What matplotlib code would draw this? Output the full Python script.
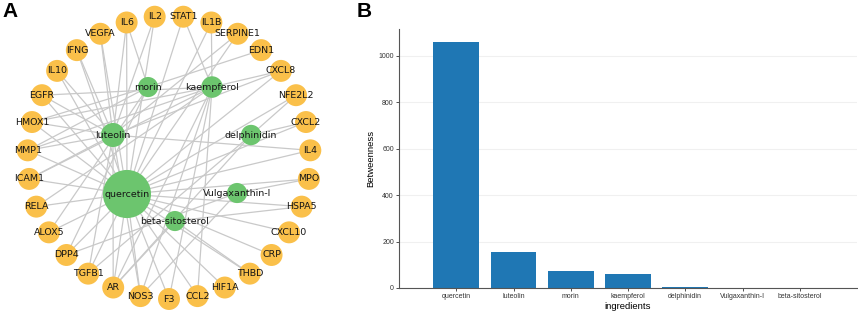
import numpy as np
import matplotlib
matplotlib.use("Agg")
import matplotlib.pyplot as plt

# ---------------- data ----------------
# Panel B: betweenness of ingredients
ingredients = ["quercetin", "luteolin", "morin", "kaempferol", "delphinidin",
               "Vulgaxanthin-I", "beta-sitosterol"]
betweenness = [1062, 154, 73, 59, 2.5, 0.3, 0.2]

# Panel A: targets (circular order, clockwise from top)
targets = ["STAT1", "IL1B", "SERPINE1", "EDN1", "CXCL8", "NFE2L2", "CXCL2", "IL4",
           "MPO", "HSPA5", "CXCL10", "CRP", "THBD", "HIF1A", "CCL2", "F3", "NOS3",
           "AR", "TGFB1", "DPP4", "ALOX5", "RELA", "ICAM1", "MMP1", "HMOX1", "EGFR",
           "IL10", "IFNG", "VEGFA", "IL6", "IL2"]

# compound -> target links
links_quercetin = ["STAT1", "IL1B", "SERPINE1", "CXCL8", "NFE2L2", "CXCL2", "IL4", "MPO",
                   "HSPA5", "CXCL10", "CRP", "THBD", "HIF1A", "CCL2", "F3", "NOS3", "AR",
                   "TGFB1", "DPP4", "ALOX5", "RELA", "ICAM1", "MMP1", "HMOX1", "EGFR",
                   "IL10", "IFNG", "VEGFA", "IL6", "IL2"]
links_luteolin = ["IL6", "IL2", "VEGFA", "IFNG", "IL10", "EGFR", "HMOX1", "MMP1", "ICAM1",
                  "IL4", "TGFB1", "AR", "NOS3", "SERPINE1", "CXCL8"]
links_kaempferol = ["STAT1", "EGFR", "HMOX1", "MMP1", "ICAM1", "RELA", "AR", "NOS3", "F3",
                    "CCL2", "CXCL8", "IL1B"]
links_morin = ["EDN1", "IL6", "ALOX5", "DPP4", "MMP1", "HMOX1"]
links_delphinidin = ["CXCL2", "NFE2L2", "AR", "TGFB1"]
links_vulgaxanthin = ["MPO", "NOS3", "DPP4"]
links_sitosterol = ["AR", "THBD", "HSPA5"]

# ---------------- layout / style ----------------
compound_pos = {
    "morin": (-0.148, 0.498),
    "kaempferol": (0.304, 0.498),
    "luteolin": (-0.396, 0.159),
    "delphinidin": (0.580, 0.159),
    "quercetin": (-0.297, -0.258),
    "Vulgaxanthin-I": (0.481, -0.251),
    "beta-sitosterol": (0.042, -0.449),
}
compound_size = {"morin": 210, "kaempferol": 240, "luteolin": 300, "delphinidin": 215,
                 "quercetin": 1200, "Vulgaxanthin-I": 210, "beta-sitosterol": 210}
links = {"quercetin": links_quercetin, "luteolin": links_luteolin,
         "kaempferol": links_kaempferol, "morin": links_morin,
         "delphinidin": links_delphinidin, "Vulgaxanthin-I": links_vulgaxanthin,
         "beta-sitosterol": links_sitosterol}

n = len(targets)
step = 360.0 / n
target_pos = {}
for k, t in enumerate(targets):
    ang = np.deg2rad(90 - step / 2 - step * k)
    target_pos[t] = (np.cos(ang), np.sin(ang))

W, H = 858, 314
fig = plt.figure(figsize=(W / 100, H / 100), dpi=100)

# network axes: center at pixel (169, 157.5 from top), 141.5 px per unit
scale = 141.5
cx, cy = 169, H - 157.5
xl = (-1.2, 1.2)
yl = (-1.1, 1.1)
left = cx + xl[0] * scale
bottom = cy + yl[0] * scale
axA = fig.add_axes([left / W, bottom / H, (xl[1] - xl[0]) * scale / W,
                    (yl[1] - yl[0]) * scale / H])
axA.set_xlim(*xl)
axA.set_ylim(*yl)
axA.axis("off")

edge_col = "#c9c9c9"
for c, tl in links.items():
    x0, y0 = compound_pos[c]
    for t in tl:
        x1, y1 = target_pos[t]
        axA.plot([x0, x1], [y0, y1], color=edge_col, lw=0.9, zorder=1,
                 solid_capstyle="butt")

tx = [target_pos[t][0] for t in targets]
ty = [target_pos[t][1] for t in targets]
axA.scatter(tx, ty, s=250, color="#FAC04A", edgecolors="none", zorder=2)
for c, (x, y) in compound_pos.items():
    axA.scatter([x], [y], s=compound_size[c], color="#6CC56E", edgecolors="none", zorder=2)

lab_font = dict(family="DejaVu Sans", fontsize=6.8, color="#151515", zorder=3,
                ha="center", va="center")
for t in targets:
    axA.text(target_pos[t][0], target_pos[t][1], t, **lab_font)
for c, (x, y) in compound_pos.items():
    axA.text(x, y, c, **lab_font)

# ---------------- bar chart ----------------
axB = fig.add_axes([399 / W, (H - 288) / H, (857 - 399) / W, (288 - 29) / H])
xpos = np.arange(len(ingredients))
axB.bar(xpos, betweenness, width=0.8, color="#1f77b4", zorder=2)
axB.set_xlim(-1.0, 7.0)
axB.set_ylim(0, 1116)
axB.set_xticks(xpos)
axB.set_xticklabels(ingredients, family="Liberation Sans", fontsize=5)
axB.set_yticks([0, 200, 400, 600, 800, 1000])
axB.set_yticklabels(["0", "200", "400", "600", "800", "1000"], family="Liberation Sans",
                    fontsize=5)
axB.tick_params(length=2.5, width=0.6, pad=1.2, colors="#333333")
axB.yaxis.grid(True, color="#f0f0f0", lw=0.8, zorder=0)
axB.set_axisbelow(True)
for s in ["top", "right"]:
    axB.spines[s].set_visible(False)
for s in ["left", "bottom"]:
    axB.spines[s].set_color("#555555")
    axB.spines[s].set_linewidth(0.8)
axB.set_xlabel("ingredients", family="Liberation Sans", fontsize=6.8, labelpad=1)
axB.set_ylabel("Betweenness", family="Liberation Sans", fontsize=6.8, labelpad=2)

fig.text(2 / W, 1 - 2 / H, "A", family="Liberation Sans", fontweight="bold",
         fontsize=15, ha="left", va="top")
fig.text(357 / W, 1 - 2 / H, "B", family="Liberation Sans", fontweight="bold",
         fontsize=15, ha="left", va="top")

fig.savefig("out.png", dpi=100)
